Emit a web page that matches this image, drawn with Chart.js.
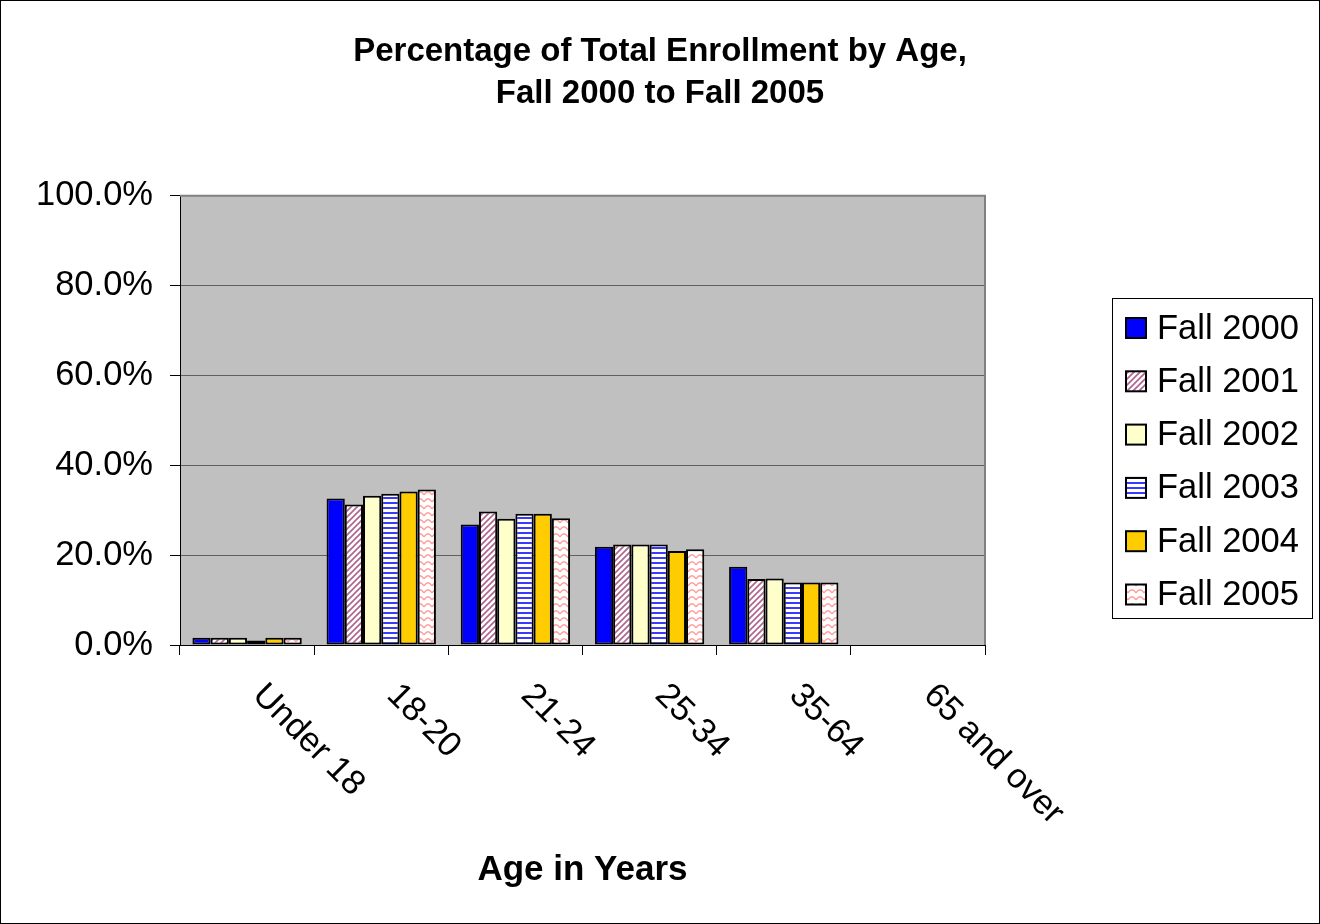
<!DOCTYPE html>
<html>
<head>
<meta charset="utf-8">
<script src="https://cdn.jsdelivr.net/npm/chart.js@4.4.1/dist/chart.umd.min.js"></script>
<style>
html,body{margin:0;padding:0;background:#fff;}
canvas{display:block;}
</style>
</head>
<body>
<canvas id="c" width="1320" height="924"></canvas>
<script>
// ---- data ----
const categories = ['Under 18', '18-20', '21-24', '25-34', '35-64', '65 and over'];
const seriesLabels = ['Fall 2000', 'Fall 2001', 'Fall 2002', 'Fall 2003', 'Fall 2004', 'Fall 2005'];
const fall2000 = [1.6, 32.6, 26.8, 21.9, 17.4, 0];
const fall2001 = [1.6, 31.3, 29.7, 22.4, 14.7, 0];
const fall2002 = [1.6, 33.2, 28.1, 22.4, 14.8, 0];
const fall2003 = [1.0, 33.7, 29.2, 22.4, 13.9, 0];
const fall2004 = [1.6, 34.2, 29.2, 20.9, 13.9, 0];
const fall2005 = [1.6, 34.6, 28.2, 21.3, 13.9, 0];
const yTickValues = [0, 20, 40, 60, 80, 100];
const titleLines = ['Percentage of Total Enrollment by Age,', 'Fall 2000 to Fall 2005'];
const xAxisTitle = 'Age in Years';

const FONT = '"Liberation Sans", Arial, Helvetica, sans-serif';

// ---- fill patterns ----
function tile(w, h, draw) {
  const cv = document.createElement('canvas');
  cv.width = w; cv.height = h;
  const c = cv.getContext('2d');
  c.fillStyle = '#ffffff';
  c.fillRect(0, 0, w, h);
  draw(c);
  return document.createElement('canvas').getContext('2d').createPattern(cv, 'repeat');
}
const diagPattern = tile(6, 6, c => {
  c.strokeStyle = '#B0668F';
  c.lineWidth = 1.7;
  c.beginPath();
  c.moveTo(0, 6); c.lineTo(6, 0);
  c.moveTo(-1, 1); c.lineTo(1, -1);
  c.moveTo(5, 7); c.lineTo(7, 5);
  c.stroke();
});
const horizPattern = tile(4, 5, c => {
  c.fillStyle = '#3A3AFF';
  c.fillRect(0, 2, 4, 2);
});
const wavePattern = tile(8, 7, c => {
  c.strokeStyle = '#FF9C9C';
  c.lineWidth = 1.4;
  c.beginPath();
  c.moveTo(0, 5);
  c.quadraticCurveTo(4, -1.5, 8, 5);
  c.stroke();
});

const seriesValues = [fall2000, fall2001, fall2002, fall2003, fall2004, fall2005];
const seriesFills = ['#0000FF', diagPattern, '#FFFFCC', horizPattern, '#FFCC00', wavePattern];

const datasets = seriesLabels.map((lab, i) => ({
  label: lab,
  data: seriesValues[i],
  backgroundColor: seriesFills[i],
  borderColor: '#000000',
  borderWidth: 2,
  borderSkipped: false,
  barPercentage: 1.0,
  categoryPercentage: 0.815,
  yAxisID: 'y'
}));

// ---- plugins ----
const plotDecor = {
  id: 'plotDecor',
  beforeDraw(chart) {
    const {ctx, chartArea: a} = chart;
    ctx.save();
    ctx.fillStyle = '#C0C0C0';
    ctx.fillRect(a.left, a.top, a.right - a.left, a.bottom - a.top);
    ctx.restore();
  },
  afterDraw(chart) {
    const {ctx, chartArea: a} = chart;
    ctx.save();
    // plot border (top/right)
    ctx.strokeStyle = '#808080';
    ctx.lineWidth = 2;
    ctx.beginPath();
    ctx.moveTo(a.left, a.top);
    ctx.lineTo(a.right, a.top);
    ctx.lineTo(a.right, a.bottom);
    ctx.stroke();

    // rotated category labels
    const xs = chart.scales.x;
    ctx.fillStyle = '#000';
    ctx.font = '34.5px ' + FONT;
    ctx.textAlign = 'left';
    ctx.textBaseline = 'middle';
    categories.forEach((lab, i) => {
      const px = xs.getPixelForTick(i);
      ctx.save();
      ctx.translate(px + 11, a.bottom + 45);
      ctx.rotate(Math.PI / 4);
      ctx.fillText(lab, 0, 0);
      ctx.restore();
    });

    // legend
    const lx = 1112, ly = 298, lw = 200, lh = 320;
    ctx.fillStyle = '#fff';
    ctx.fillRect(lx, ly, lw, lh);
    ctx.strokeStyle = '#000';
    ctx.lineWidth = 1;
    ctx.strokeRect(lx + 0.5, ly + 0.5, lw, lh);
    chart.data.datasets.forEach((ds, i) => {
      const cy = 328 + i * 53.3;
      ctx.fillStyle = ds.backgroundColor;
      ctx.fillRect(1126, cy - 10, 20, 20);
      ctx.strokeStyle = '#000';
      ctx.lineWidth = 2;
      ctx.strokeRect(1126, cy - 10, 20, 20);
      ctx.fillStyle = '#000';
      ctx.font = '34.5px ' + FONT;
      ctx.textAlign = 'left';
      ctx.textBaseline = 'middle';
      ctx.fillText(ds.label, 1157, cy + 1);
    });

    // outer frame
    ctx.strokeStyle = '#000';
    ctx.lineWidth = 1;
    ctx.strokeRect(0.5, 0.5, chart.width - 1, chart.height - 1);
    ctx.restore();
  }
};

new Chart(document.getElementById('c'), {
  type: 'bar',
  data: { labels: categories, datasets },
  options: {
    responsive: false,
    animation: false,
    devicePixelRatio: 1,
    layout: { padding: 0 },
    plugins: {
      legend: { display: false },
      tooltip: { enabled: false },
      title: {
        display: true,
        text: titleLines,
        color: '#000',
        font: { family: FONT, size: 33, weight: 'bold', lineHeight: 1.27 },
        padding: { top: 31, bottom: 81 }
      }
    },
    scales: {
      x: {
        type: 'category',
        offset: true,
        grid: {
          display: true, offset: true, drawOnChartArea: false, drawTicks: true,
          tickLength: 10, tickColor: '#000', color: '#000'
        },
        border: { display: true, color: '#000', width: 1 },
        ticks: { display: false },
        title: {
          display: true, text: xAxisTitle, color: '#000',
          font: { family: FONT, size: 35, weight: 'bold', lineHeight: 1.2 },
          padding: { top: 0, bottom: 33 }
        },
        afterFit(s) { s.height = 279; }
      },
      y: {
        type: 'linear',
        position: 'left',
        min: 0, max: 100,
        afterBuildTicks(s) { s.ticks = yTickValues.map(v => ({ value: v })); },
        ticks: {
          color: '#000',
          padding: 17,
          font: { family: FONT, size: 34.5 },
          callback: v => v.toFixed(1) + '%'
        },
        grid: { color: '#606060', lineWidth: 1, tickLength: 10, tickColor: '#000', drawTicks: true },
        border: { display: true, color: '#000', width: 1 },
        afterFit(s) { s.width = 180; }
      },
      yR: {
        type: 'linear',
        position: 'right',
        display: true,
        grid: { display: false, drawTicks: false },
        border: { display: false },
        ticks: { display: false },
        afterFit(s) { s.width = 335; }
      }
    }
  },
  plugins: [plotDecor]
});
</script>
</body>
</html>
